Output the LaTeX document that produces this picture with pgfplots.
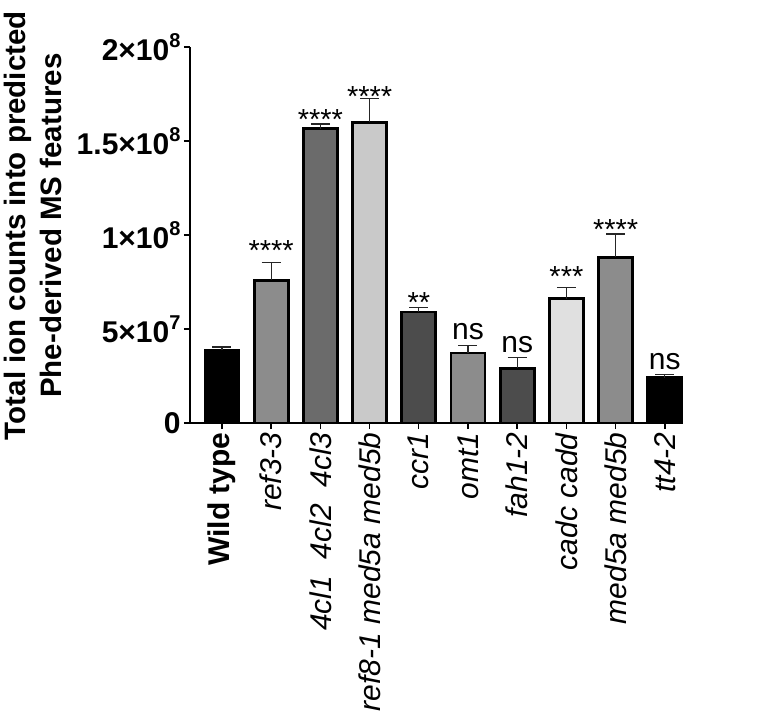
\documentclass[border=0pt]{standalone}
\usepackage{fontspec}
\setmainfont{Liberation Sans}
\usepackage{pgfplots}
\pgfplotsset{compat=1.18}
\newcommand{\sci}[2]{#1×10\raisebox{0.42em}{\fontsize{20}{20}\selectfont #2}}
\definecolor{gA}{gray}{0.55}
\definecolor{gB}{gray}{0.42}
\definecolor{gC}{gray}{0.79}
\definecolor{gD}{gray}{0.30}
\definecolor{gE}{gray}{0.88}
\pgfplotsset{
  mybar/.style={fill=#1, draw=black, line width=2.8pt,
    error bars/.cd, y dir=plus, y explicit,
    error bar style={line width=1.3pt, black!85},
    error mark options={rotate=90, mark size=9.5pt, line width=1.3pt, black!85}},
}
\begin{document}
\begin{tikzpicture}
\useasboundingbox (-190pt,-287pt) rectangle (570pt,423pt);
\begin{axis}[
  scale only axis, width=493pt, height=376pt,
  xmin=-0.65, xmax=9.37, ymin=0, ymax=20,
  axis x line=bottom, axis y line=left,
  axis line style={-, line width=1.4pt},
  ybar, bar width=34pt, bar shift=0pt,
  xtick={0,...,9},
  xticklabels={\textbf{Wild type}, \textit{ref3-3}, \textit{4cl1\ \ 4cl2\ \ 4cl3}, \textit{ref8-1 med5a med5b}, \textit{ccr1}, \textit{omt1}, \textit{fah1-2}, \textit{cadc cadd}, \textit{med5a med5b}, \textit{tt4-2}},
  x tick label style={rotate=90, anchor=east, font=\fontsize{30}{30}\selectfont},
  ytick={0,5,10,15,20},
  yticklabels={0, \sci{5}{7}, \sci{1}{8}, \sci{1.5}{8}, \sci{2}{8}},
  y tick label style={font=\fontsize{30}{30}\selectfont\bfseries},
  tick style={black, line width=1.4pt}, major tick length=6pt, tick align=outside,
  ylabel={Total ion counts into predicted\\Phe-derived MS features},
  ylabel style={font=\fontsize{29.5}{36}\selectfont\bfseries, align=center, at={(axis description cs:-0.318,0.525)}, anchor=center},
]
\addplot[mybar=black] coordinates {(0,3.87) +- (0,0.17)};
\addplot[mybar=gA] coordinates {(1,7.60) +- (0,0.95)};
\addplot[mybar=gB] coordinates {(2,15.65) +- (0,0.25)};
\addplot[mybar=gC] coordinates {(3,15.99) +- (0,1.28)};
\addplot[mybar=gD] coordinates {(4,5.90) +- (0,0.23)};
\addplot[mybar=gA] coordinates {(5,3.72) +- (0,0.41)};
\addplot[mybar=gD] coordinates {(6,2.92) +- (0,0.55)};
\addplot[mybar=gE] coordinates {(7,6.61) +- (0,0.61)};
\addplot[mybar=gA] coordinates {(8,8.82) +- (0,1.23)};
\addplot[mybar=black] coordinates {(9,2.41) +- (0,0.18)};
% significance stars (y = bottom of the star glyphs)
\addplot[draw=none, fill=none, nodes near coords, point meta=explicit symbolic,
  nodes near coords style={anchor=base, yshift=-8.5pt, font=\fontsize{29}{29}\selectfont, inner sep=0pt}]
  table[meta=lab] {
x y lab
1 9.10 ****
2 16.06 ****
3 17.29 ****
4 6.33 **
7 7.73 ***
8 10.23 ****
};
% ns labels (y = baseline)
\addplot[draw=none, fill=none, nodes near coords, point meta=explicit symbolic,
  nodes near coords style={anchor=base, font=\fontsize{30}{30}\selectfont, inner sep=0pt}]
  table[meta=lab] {
x y lab
5 4.45 ns
6 3.74 ns
9 2.82 ns
};
\end{axis}
\end{tikzpicture}
\end{document}
